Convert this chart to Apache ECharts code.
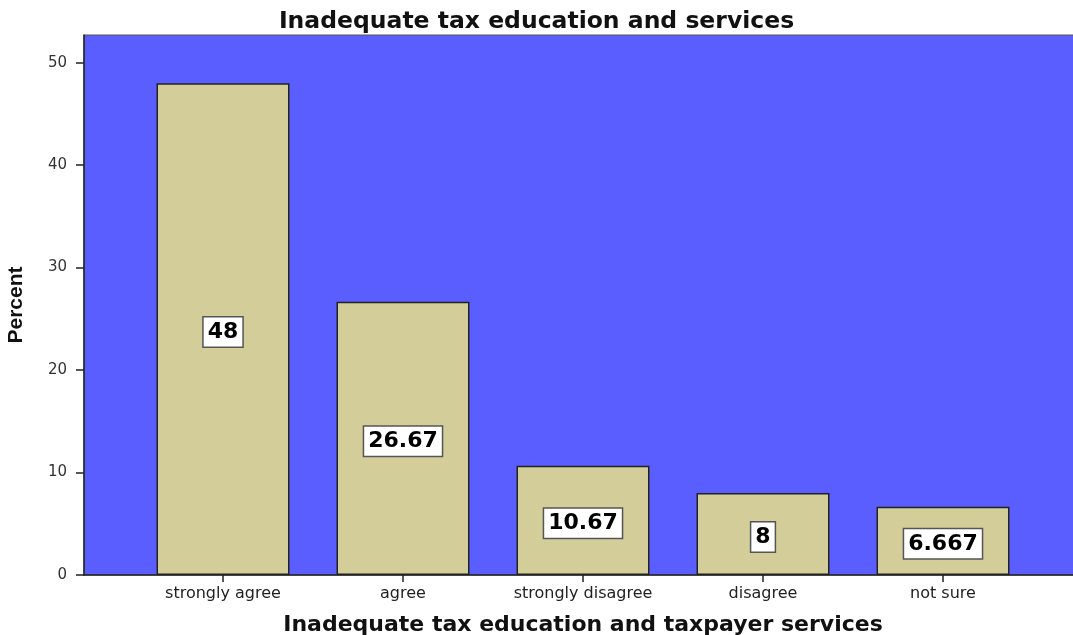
<!DOCTYPE html>
<html>
<head>
<meta charset="utf-8">
<title>Inadequate tax education and services</title>
<script src="https://cdn.jsdelivr.net/npm/echarts@6/dist/echarts.min.js"></script>
<style>
  html, body { margin: 0; padding: 0; background: #ffffff; }
  #chart { width: 1073px; height: 635px; }
</style>
</head>
<body>
<div id="chart"></div>
<script>
// Survey responses: percentage per answer category
const categories = ['strongly agree', 'agree', 'strongly disagree', 'disagree', 'not sure'];
const percents = [48, 26.67, 10.67, 8, 6.667];
const valueLabels = ['48', '26.67', '10.67', '8', '6.667'];

const chartTitle = 'Inadequate tax education and services';
const xTitle = 'Inadequate tax education and taxpayer services';
const yTitle = 'Percent';

const yMin = 0, yMax = 52.7, yStep = 10;

const chart = echarts.init(document.getElementById('chart'), null, { renderer: 'canvas' });

const plotTop = 35, plotBottom = 60;

chart.setOption({
  animation: false,
  backgroundColor: '#ffffff',
  title: {
    text: chartTitle,
    left: 'center',
    top: 5,
    textStyle: { fontFamily: 'DejaVu Sans', fontWeight: 'bold', fontSize: 23.5, color: '#111' }
  },
  grid: [
    // full plotting frame (blue panel) carrying the value axis
    { left: 84, top: plotTop, width: 1000, bottom: plotBottom, show: true,
      backgroundColor: '#5B5EFF', borderColor: '#555', borderWidth: 1,
      containLabel: false, outerBoundsMode: 'none' },
    // inner band where the category bars sit
    { left: 133, top: plotTop, width: 900, bottom: plotBottom,
      containLabel: false, outerBoundsMode: 'none' }
  ],
  xAxis: [
    { type: 'category', gridIndex: 0, data: [''],
      axisLine: { show: true, lineStyle: { color: '#222', width: 1.5 } },
      axisTick: { show: false }, axisLabel: { show: false } },
    { type: 'category', gridIndex: 1, data: categories,
      axisLine: { show: false },
      axisTick: { show: true, alignWithLabel: true, length: 7, lineStyle: { color: '#222', width: 1.5 } },
      axisLabel: { interval: 0, fontFamily: 'DejaVu Sans', fontSize: 16, color: '#222', margin: 11 },
      name: xTitle, nameLocation: 'middle', nameGap: 39,
      nameTextStyle: { fontFamily: 'DejaVu Sans', fontWeight: 'bold', fontSize: 22, color: '#111' } }
  ],
  yAxis: [
    { type: 'value', gridIndex: 0, min: yMin, max: yMax, interval: yStep,
      axisLine: { show: true, lineStyle: { color: '#222', width: 1.5 } },
      axisTick: { show: true, length: 8, lineStyle: { color: '#222', width: 1.5 } },
      axisLabel: { fontFamily: 'DejaVu Sans', fontSize: 15, color: '#333', margin: 17, showMaxLabel: false },
      splitLine: { show: false },
      name: yTitle, nameLocation: 'middle', nameGap: 57,
      nameTextStyle: { fontFamily: 'Liberation Sans', fontWeight: 'bold', fontSize: 21, color: '#111' } },
    { type: 'value', gridIndex: 1, min: yMin, max: yMax, interval: yStep, show: false,
      splitLine: { show: false } }
  ],
  series: [{
    type: 'bar',
    xAxisIndex: 1,
    yAxisIndex: 1,
    data: percents,
    barWidth: 133,
    itemStyle: { color: '#D3CE99', borderColor: '#222', borderWidth: 1.5 },
    label: {
      show: true,
      position: 'inside',
      offset: [0, 3],
      formatter: p => valueLabels[p.dataIndex],
      fontFamily: 'DejaVu Sans',
      fontWeight: 'bold',
      fontSize: 22,
      color: '#000',
      backgroundColor: '#ffffff',
      borderColor: '#555',
      borderWidth: 1.5,
      padding: [4, 4, 3, 4]
    }
  }]
});
</script>
</body>
</html>
